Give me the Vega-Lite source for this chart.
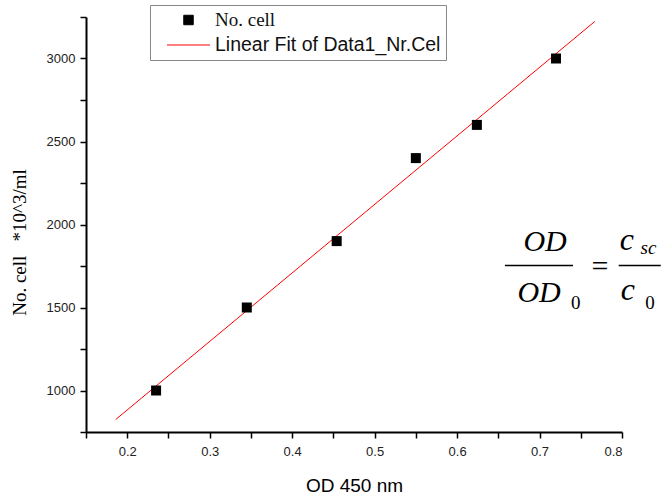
{
  "$schema": "https://vega.github.io/schema/vega-lite/v6.json",
  "autosize": "none",
  "width": 536,
  "height": 415,
  "padding": {"left": 86, "top": 17, "right": 39, "bottom": 68},
  "background": "white",
  "config": {
    "view": {"stroke": null},
    "axis": {
      "grid": false,
      "domainColor": "black",
      "domainWidth": 2,
      "tickColor": "black",
      "tickWidth": 1.5,
      "tickSize": 6,
      "labelFont": "Liberation Sans",
      "labelFontSize": 13,
      "labelColor": "#222",
      "titleFontWeight": "normal",
      "titleColor": "black"
    }
  },
  "datasets": {
    "pts": [
      {"od": 0.235, "cells": 1000, "series": "No. cell"},
      {"od": 0.345, "cells": 1500, "series": "No. cell"},
      {"od": 0.454, "cells": 1900, "series": "No. cell"},
      {"od": 0.55, "cells": 2400, "series": "No. cell"},
      {"od": 0.624, "cells": 2600, "series": "No. cell"},
      {"od": 0.72, "cells": 3000, "series": "No. cell"}
    ],
    "fit": [
      {"od": 0.186, "cells": 825, "series": "Linear Fit of Data1_Nr.Cel"},
      {"od": 0.767, "cells": 3223, "series": "Linear Fit of Data1_Nr.Cel"}
    ]
  },
  "layer": [
    {
      "data": {"name": "fit"},
      "mark": {"type": "line", "strokeWidth": 1},
      "encoding": {
        "x": {
          "field": "od", "type": "quantitative",
          "scale": {"domain": [0.15, 0.8], "nice": false, "zero": false},
          "axis": {
            "title": "OD 450 nm",
            "titleFont": "Liberation Sans",
            "titleFontSize": 19,
            "titlePadding": 18,
            "values": [0.15, 0.2, 0.25, 0.3, 0.35, 0.4, 0.45, 0.5, 0.55, 0.6, 0.65, 0.7, 0.75, 0.8],
            "labelExpr": "abs(datum.value*10 - round(datum.value*10)) < 0.001 ? format(datum.value, '.1f') : ''",
            "labelPadding": 7
          }
        },
        "y": {
          "field": "cells", "type": "quantitative",
          "scale": {"domain": [750, 3250], "nice": false, "zero": false},
          "axis": {
            "title": "No. cell\u00a0\u00a0\u00a0*10^3/ml",
            "titleFont": "Liberation Serif",
            "titleFontSize": 19,
            "titlePadding": 17,
            "titleY": 225,
            "values": [750, 1000, 1250, 1500, 1750, 2000, 2250, 2500, 2750, 3000, 3250],
            "labelExpr": "datum.value % 500 == 0 ? format(datum.value, 'd') : ''",
            "labelPadding": 5
          }
        },
        "color": {
          "field": "series", "type": "nominal",
          "scale": {"domain": ["No. cell", "Linear Fit of Data1_Nr.Cel"], "range": ["black", "red"]},
          "legend": {
            "title": null,
            "orient": "none",
            "legendX": 64,
            "legendY": -12,
            "padding": 5,
            "strokeColor": "#888",
            "fillColor": "white",
            "rowPadding": 5,
            "labelFontSize": 19,
            "labelLimit": 400,
            "labelFont": "Liberation Sans",
            "labelColor": "#111",
            "symbolSize": 100,
            "labelOffset": 16,
            "encode": {
              "symbols": {
                "update": {
                  "x": {"value": 33.5},
                  "y": {"value": 10},
                  "shape": {"signal": "datum.value == 'No. cell' ? 'square' : 'stroke'"},
                  "size": {"signal": "datum.value == 'No. cell' ? 90 : 1849"},
                  "fill": {"signal": "datum.value == 'No. cell' ? 'black' : 'transparent'"},
                  "stroke": {"signal": "datum.value == 'No. cell' ? 'black' : 'red'"},
                  "strokeWidth": {"value": 1},
                  "opacity": {"value": 1}
                }
              },
              "labels": {
                "update": {
                  "y": {"value": 10},
                  "baseline": {"value": "middle"},
                  "font": {"signal": "datum.value == 'No. cell' ? 'Liberation Serif' : 'Liberation Sans'"},
                  "fontSize": {"signal": "datum.value == 'No. cell' ? 19 : 19.5"}
                }
              }
            }
          }
        }
      }
    },
    {
      "data": {"name": "pts"},
      "mark": {"type": "square", "filled": true, "size": 100, "opacity": 1},
      "encoding": {
        "x": {"field": "od", "type": "quantitative"},
        "y": {"field": "cells", "type": "quantitative"},
        "color": {"field": "series", "type": "nominal"}
      }
    },
    {
      "data": {"values": [{"t": "OD"}]},
      "mark": {"type": "text", "font": "Liberation Serif", "fontStyle": "italic", "fontSize": 30, "baseline": "middle", "align": "center", "clip": false},
      "encoding": {"x": {"datum": 0.7067}, "y": {"datum": 1892}, "text": {"field": "t"}}
    },
    {
      "data": {"values": [{"t": "OD"}]},
      "mark": {"type": "text", "font": "Liberation Serif", "fontStyle": "italic", "fontSize": 30, "baseline": "middle", "align": "center", "clip": false},
      "encoding": {"x": {"datum": 0.6995}, "y": {"datum": 1590}, "text": {"field": "t"}}
    },
    {
      "data": {"values": [{"t": "0"}]},
      "mark": {"type": "text", "font": "Liberation Serif", "fontSize": 19, "baseline": "middle", "align": "center", "clip": false},
      "encoding": {"x": {"datum": 0.744}, "y": {"datum": 1525}, "text": {"field": "t"}}
    },
    {
      "data": {"values": [{"t": "0"}]},
      "mark": {"type": "text", "font": "Liberation Serif", "fontSize": 19, "baseline": "middle", "align": "center", "clip": false},
      "encoding": {"x": {"datum": 0.834}, "y": {"datum": 1525}, "text": {"field": "t"}}
    },
    {
      "data": {"values": [{"t": "="}]},
      "mark": {"type": "text", "font": "Liberation Serif", "fontSize": 30, "baseline": "middle", "align": "center", "clip": false},
      "encoding": {"x": {"datum": 0.7733}, "y": {"datum": 1741}, "text": {"field": "t"}}
    },
    {
      "data": {"values": [{"t": "c"}]},
      "mark": {"type": "text", "font": "Liberation Serif", "fontStyle": "italic", "fontSize": 32, "baseline": "middle", "align": "center", "clip": false},
      "encoding": {"x": {"datum": 0.806}, "y": {"datum": 1905}, "text": {"field": "t"}}
    },
    {
      "data": {"values": [{"t": "c"}]},
      "mark": {"type": "text", "font": "Liberation Serif", "fontStyle": "italic", "fontSize": 32, "baseline": "middle", "align": "center", "clip": false},
      "encoding": {"x": {"datum": 0.807}, "y": {"datum": 1605}, "text": {"field": "t"}}
    },
    {
      "data": {"values": [{"t": "sc"}]},
      "mark": {"type": "text", "font": "Liberation Serif", "fontStyle": "italic", "fontSize": 19, "baseline": "middle", "align": "center", "clip": false},
      "encoding": {"x": {"datum": 0.832}, "y": {"datum": 1858}, "text": {"field": "t"}}
    },
    {
      "data": {"values": [{"a": 0.658, "b": 0.7406}, {"a": 0.796, "b": 0.847}]},
      "mark": {"type": "rule", "color": "black", "strokeWidth": 1.5, "clip": false},
      "encoding": {
        "x": {"field": "a", "type": "quantitative"},
        "x2": {"field": "b"},
        "y": {"datum": 1753}
      }
    }
  ]
}
